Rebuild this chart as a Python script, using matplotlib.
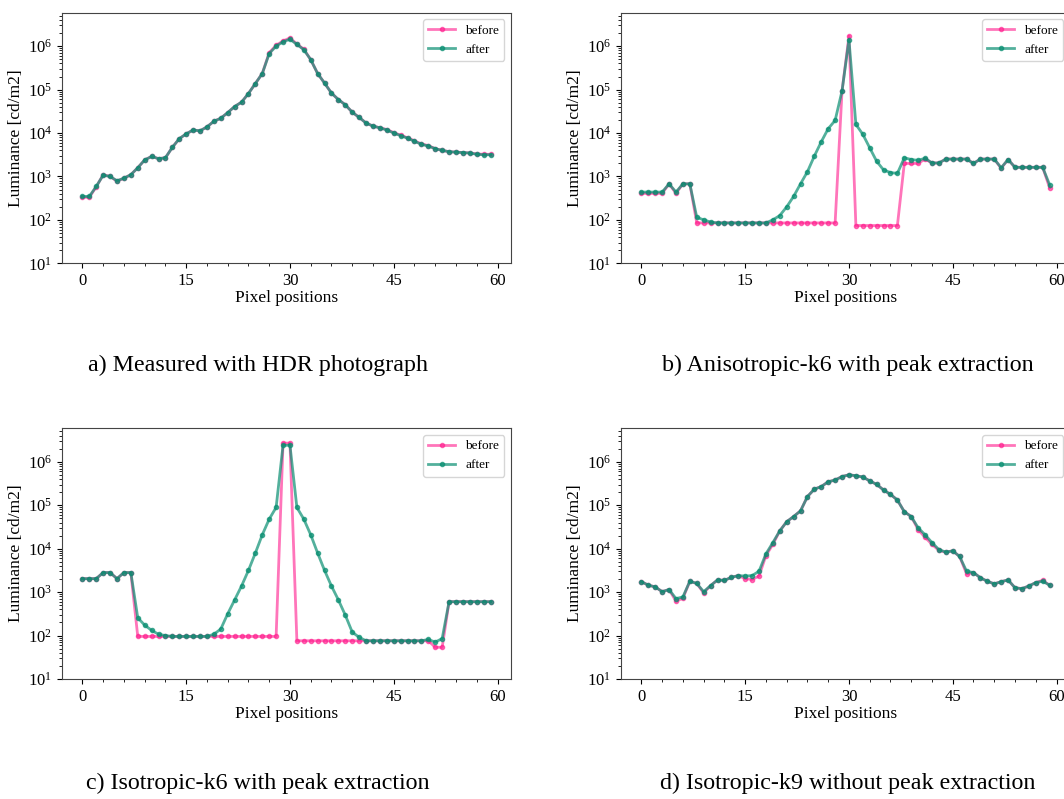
import numpy as np
import matplotlib
matplotlib.use("Agg")
import matplotlib.pyplot as plt
from matplotlib.ticker import MultipleLocator

plt.rcParams['font.family'] = ['Liberation Serif', 'DejaVu Serif']
plt.rcParams['mathtext.fontset'] = 'stix'

x = np.arange(60)

# log10 luminance values
a_after = [2.54, 2.54, 2.77, 3.03, 3.00, 2.90, 2.96, 3.04, 3.20, 3.38,
           3.46, 3.41, 3.43, 3.67, 3.87, 3.98, 4.07, 4.05, 4.14, 4.27,
           4.34, 4.47, 4.61, 4.71, 4.91, 5.14, 5.37, 5.83, 6.00, 6.10,
           6.16, 6.04, 5.92, 5.69, 5.37, 5.15, 4.92, 4.77, 4.65, 4.48,
           4.36, 4.23, 4.16, 4.12, 4.07, 4.00, 3.94, 3.88, 3.81, 3.74,
           3.70, 3.64, 3.60, 3.57, 3.56, 3.55, 3.54, 3.51, 3.50, 3.50]
a_before = [2.52, 2.52, 2.76, 3.04, 3.00, 2.89, 2.96, 3.04, 3.20, 3.38,
            3.46, 3.41, 3.43, 3.67, 3.87, 3.98, 4.07, 4.05, 4.14, 4.27,
            4.34, 4.47, 4.61, 4.71, 4.91, 5.14, 5.37, 5.85, 6.02, 6.12,
            6.19, 6.05, 5.93, 5.69, 5.37, 5.15, 4.92, 4.77, 4.65, 4.48,
            4.36, 4.23, 4.16, 4.12, 4.08, 4.01, 3.95, 3.89, 3.82, 3.75,
            3.71, 3.64, 3.60, 3.57, 3.56, 3.55, 3.54, 3.52, 3.51, 3.51]

b_after = [2.64, 2.64, 2.64, 2.64, 2.83, 2.64, 2.83, 2.83, 2.06, 2.00,
           1.95, 1.93, 1.93, 1.93, 1.93, 1.93, 1.93, 1.93, 1.93, 2.00,
           2.10, 2.30, 2.54, 2.83, 3.11, 3.47, 3.80, 4.10, 4.29, 4.97,
           6.15, 4.20, 3.97, 3.66, 3.35, 3.15, 3.09, 3.07, 3.43, 3.39,
           3.37, 3.42, 3.31, 3.31, 3.40, 3.40, 3.40, 3.40, 3.30, 3.40,
           3.40, 3.40, 3.20, 3.39, 3.21, 3.21, 3.21, 3.21, 3.21, 2.81]
b_before = [2.61, 2.61, 2.61, 2.61, 2.83, 2.61, 2.83, 2.83, 1.93, 1.93,
            1.93, 1.93, 1.93, 1.93, 1.93, 1.93, 1.93, 1.93, 1.93, 1.93,
            1.93, 1.93, 1.93, 1.93, 1.93, 1.93, 1.93, 1.93, 1.93, 4.97,
            6.23, 1.87, 1.87, 1.87, 1.87, 1.87, 1.87, 1.87, 3.30, 3.30,
            3.30, 3.40, 3.31, 3.31, 3.40, 3.40, 3.40, 3.40, 3.30, 3.40,
            3.40, 3.40, 3.19, 3.39, 3.21, 3.21, 3.21, 3.21, 3.21, 2.74]

c_after = [3.31, 3.31, 3.31, 3.45, 3.45, 3.31, 3.45, 3.45, 2.41, 2.24,
           2.12, 2.03, 2.00, 1.98, 1.98, 1.98, 1.98, 1.98, 1.98, 2.03,
           2.15, 2.50, 2.82, 3.14, 3.50, 3.90, 4.32, 4.68, 4.95, 6.38,
           6.38, 4.95, 4.68, 4.32, 3.90, 3.50, 3.14, 2.82, 2.47, 2.08,
           1.96, 1.88, 1.88, 1.88, 1.88, 1.88, 1.88, 1.88, 1.88, 1.88,
           1.91, 1.85, 1.93, 2.78, 2.78, 2.78, 2.78, 2.78, 2.78, 2.78]
c_before = [3.31, 3.31, 3.31, 3.45, 3.45, 3.31, 3.45, 3.45, 1.98, 1.98,
            1.98, 1.98, 1.98, 1.98, 1.98, 1.98, 1.98, 1.98, 1.98, 1.98,
            1.98, 1.98, 1.98, 1.98, 1.98, 1.98, 1.98, 1.98, 1.98, 6.43,
            6.43, 1.88, 1.88, 1.88, 1.88, 1.88, 1.88, 1.88, 1.88, 1.88,
            1.88, 1.88, 1.88, 1.88, 1.88, 1.88, 1.88, 1.88, 1.88, 1.88,
            1.88, 1.73, 1.73, 2.78, 2.78, 2.78, 2.78, 2.78, 2.78, 2.78]

d_after = [3.24, 3.16, 3.12, 3.01, 3.06, 2.85, 2.89, 3.25, 3.20, 3.01,
           3.15, 3.28, 3.27, 3.34, 3.38, 3.37, 3.38, 3.48, 3.88, 4.14,
           4.41, 4.62, 4.74, 4.87, 5.20, 5.37, 5.43, 5.54, 5.58, 5.66,
           5.70, 5.68, 5.65, 5.56, 5.48, 5.35, 5.25, 5.12, 4.85, 4.74,
           4.48, 4.32, 4.14, 3.98, 3.92, 3.95, 3.82, 3.48, 3.45, 3.33,
           3.25, 3.19, 3.24, 3.28, 3.10, 3.08, 3.14, 3.22, 3.25, 3.16]
d_before = [3.24, 3.16, 3.12, 3.01, 3.06, 2.79, 2.86, 3.25, 3.20, 2.98,
            3.15, 3.28, 3.27, 3.34, 3.38, 3.31, 3.29, 3.37, 3.84, 4.10,
            4.41, 4.62, 4.74, 4.87, 5.20, 5.37, 5.43, 5.54, 5.58, 5.66,
            5.70, 5.68, 5.65, 5.56, 5.48, 5.35, 5.25, 5.12, 4.85, 4.74,
            4.44, 4.26, 4.10, 3.96, 3.92, 3.95, 3.82, 3.42, 3.45, 3.33,
            3.25, 3.19, 3.24, 3.28, 3.10, 3.08, 3.14, 3.22, 3.27, 3.16]

captions = ["a) Measured with HDR photograph",
            "b) Anisotropic-k6 with peak extraction",
            "c) Isotropic-k6 with peak extraction",
            "d) Isotropic-k9 without peak extraction"]
series = [(a_before, a_after), (b_before, b_after),
          (c_before, c_after), (d_before, d_after)]

W, H = 1064, 799
fig = plt.figure(figsize=(W / 100, H / 100), dpi=100)

# axes boxes in pixels: left, top, right, bottom
boxes = [(62, 12.7, 511, 263.3), (621, 12.7, 1070, 263.3),
         (62, 428.3, 511, 679), (621, 428.3, 1070, 679)]
cap_pos = [(258, 365), (848, 365), (258, 783), (848, 783)]

pink = '#ff1a8c'
teal = '#0a8f72'

for (l, t, r, b), (bef, aft), cap, (cx, cy) in zip(boxes, series, captions, cap_pos):
    ax = fig.add_axes([l / W, 1 - b / H, (r - l) / W, (b - t) / H])
    ax.plot(x, 10 ** np.array(bef), color=pink, alpha=0.6, lw=2,
            marker='o', ms=3, label='before')
    ax.plot(x, 10 ** np.array(aft), color=teal, alpha=0.7, lw=2,
            marker='o', ms=3, label='after')
    ax.set_yscale('log')
    ax.set_ylim(10, 5.9e6)
    ax.set_xlim(-2.95, 61.95)
    ax.xaxis.set_major_locator(MultipleLocator(15))
    ax.xaxis.set_minor_locator(MultipleLocator(3))
    ax.tick_params(labelsize=12)
    for s in ax.spines.values():
        s.set_color('#444444')
    ax.set_xlabel('Pixel positions', fontsize=12.5, labelpad=1)
    ax.set_ylabel('Luminance [cd/m2]', fontsize=12.5, labelpad=3)
    ax.legend(loc='upper right', fontsize=9.5)
    fig.text(cx / W, 1 - cy / H, cap, ha='center', va='center', fontsize=17.3)

fig.savefig('out.png', dpi=100)
